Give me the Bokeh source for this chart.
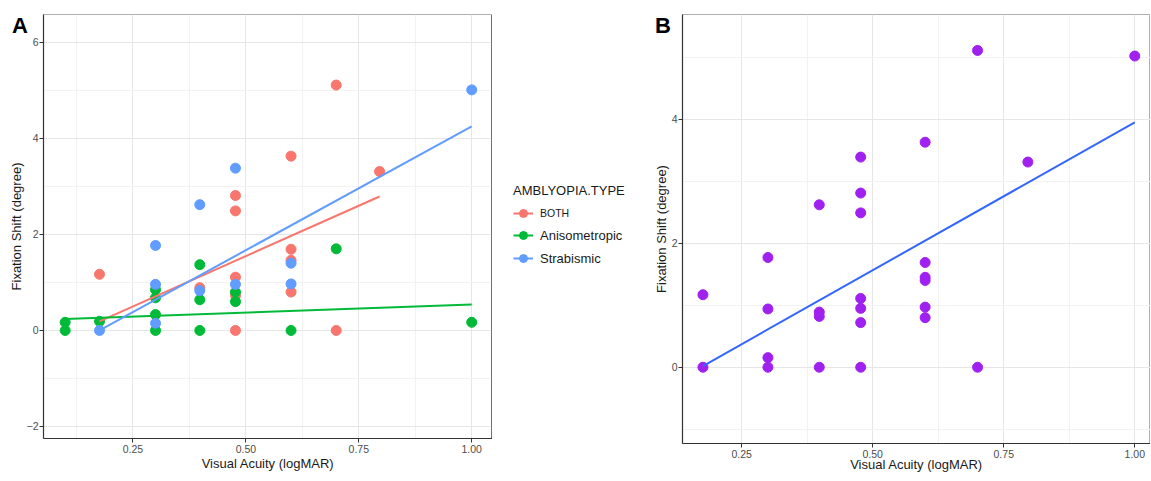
from bokeh.plotting import figure
from bokeh.models import (Range1d, FixedTicker, Legend, LegendItem, Div, Span,
                          NumeralTickFormatter)
from bokeh.layouts import row
from bokeh.embed import file_html
from bokeh.resources import INLINE

FONT = "Liberation Sans"

# ---------------- data: panel A (by amblyopia type) ----------------
both_x = [0.176, 0.398, 0.477, 0.477, 0.477, 0.477, 0.477, 0.6, 0.6, 0.6, 0.6, 0.7, 0.7, 0.796]
both_y = [1.17, 0.89, 2.81, 2.49, 1.11, 0.73, 0.0, 3.63, 1.69, 1.46, 0.80, 5.11, 0.0, 3.31]

aniso_x = [0.1, 0.1, 0.176, 0.3, 0.3, 0.3, 0.3, 0.398, 0.398, 0.398, 0.477, 0.477, 0.6, 0.7, 1.0]
aniso_y = [0.17, 0.0, 0.19, 0.85, 0.68, 0.33, 0.0, 1.37, 0.64, 0.0, 0.80, 0.60, 0.0, 1.70, 0.17]

strab_x = [0.176, 0.3, 0.3, 0.3, 0.398, 0.398, 0.477, 0.477, 0.6, 0.6, 1.0]
strab_y = [0.0, 1.77, 0.96, 0.15, 2.62, 0.83, 3.38, 0.96, 1.40, 0.97, 5.01]

# linear fits (endpoints)
fit_both_x, fit_both_y = [0.176, 0.796], [0.19, 2.79]
fit_aniso_x, fit_aniso_y = [0.1, 1.0], [0.24, 0.54]
fit_strab_x, fit_strab_y = [0.176, 1.0], [0.0, 4.25]

# ---------------- data: panel B (all) ----------------
all_x = [0.176, 0.176, 0.3, 0.3, 0.3, 0.3, 0.398, 0.398, 0.398, 0.398,
         0.477, 0.477, 0.477, 0.477, 0.477, 0.477, 0.477,
         0.6, 0.6, 0.6, 0.6, 0.6, 0.6, 0.7, 0.7, 0.796, 1.0]
all_y = [1.17, 0.0, 1.77, 0.94, 0.155, 0.0, 2.62, 0.89, 0.82, 0.0,
         3.39, 2.81, 2.49, 1.11, 0.95, 0.72, 0.0,
         3.63, 1.69, 1.45, 1.40, 0.97, 0.80, 5.11, 0.0, 3.31, 5.02]
fit_all_x, fit_all_y = [0.176, 1.0], [0.02, 3.95]

# ticks
x_ticks = [0.25, 0.5, 0.75, 1.0]
x_minor = [0.125, 0.375, 0.625, 0.875]
yA_ticks = [-2, 0, 2, 4, 6]
yA_minor = [-1, 1, 3, 5]
yB_ticks = [0, 2, 4]
yB_minor = [-1, 1, 3, 5]

group_names = ["BOTH", "Anisometropic", "Strabismic"]
group_colors = ["#F8766D", "#00BA38", "#619CFF"]
group_x = [both_x, aniso_x, strab_x]
group_y = [both_y, aniso_y, strab_y]
fit_x = [fit_both_x, fit_aniso_x, fit_strab_x]
fit_y = [fit_both_y, fit_aniso_y, fit_strab_y]

H = 472  # common figure height
DOT = 10


def style(p, yt, ym, xstand, ystand):
    p.xaxis.ticker = FixedTicker(ticks=x_ticks, minor_ticks=x_minor)
    p.yaxis.ticker = FixedTicker(ticks=yt, minor_ticks=ym)
    p.xaxis.formatter = NumeralTickFormatter(format="0.00")
    for ax in (p.xaxis[0], p.yaxis[0]):
        ax.axis_line_color = "#333333"
        ax.axis_line_width = 1.2
        ax.major_tick_line_color = "#333333"
        ax.major_tick_out = 4
        ax.major_tick_in = 0
        ax.minor_tick_out = 0
        ax.minor_tick_in = 0
        ax.major_label_text_font = FONT
        ax.major_label_text_font_size = "10.5px"
        ax.major_label_text_color = "#4d4d4d"
        ax.major_label_standoff = 2
        ax.axis_label_text_font = FONT
        ax.axis_label_text_font_size = "13px"
        ax.axis_label_text_font_style = "normal"
        ax.axis_label_text_color = "#1a1a1a"
    p.yaxis.major_label_standoff = 1
    p.yaxis.axis_label_standoff = ystand
    p.xaxis.axis_label_standoff = xstand
    p.xaxis.axis_label = "Visual Acuity (logMAR)"
    p.yaxis.axis_label = "Fixation Shift (degree)"
    for g in (p.xgrid[0], p.ygrid[0]):
        g.grid_line_color = "#e6e6e6"
        g.grid_line_width = 1
        g.minor_grid_line_color = "#f2f2f2"
        g.minor_grid_line_width = 1
    p.outline_line_color = "#b0b0b0"
    p.outline_line_width = 1
    p.background_fill_color = "white"


# ---------------- panel A ----------------
pA = figure(output_backend="svg", toolbar_location=None,
            frame_width=449, frame_height=424,
            min_border_left=43, min_border_right=0,
            min_border_top=14, min_border_bottom=30,
            x_range=Range1d(0.052, 1.046), y_range=Range1d(-2.25, 6.58))
style(pA, yA_ticks, yA_minor, 0, 0)
pA.add_layout(Span(location=pA.x_range.end, dimension="height",
                   line_color="#555555", line_width=2.4))

for xs, ys, c in zip(group_x, group_y, group_colors):
    pA.scatter(xs, ys, size=DOT, color=c, line_color=c)
for xs, ys, c in zip(fit_x, fit_y, group_colors):
    pA.line(xs, ys, line_color=c, line_width=2)

# ---------------- legend strip (its frame shows no data: range far from the data) ----------------
pL = figure(output_backend="svg", toolbar_location=None,
            width=148, height=H, min_border=0,
            min_border_left=0, min_border_right=0, min_border_top=0, min_border_bottom=0,
            x_axis_type=None, y_axis_type=None,
            x_range=Range1d(-10, -9), y_range=Range1d(-10, -9))
pL.outline_line_color = None
pL.grid.visible = False
items = []
for xs, ys, fx, fy, n, c in zip(group_x, group_y, fit_x, fit_y, group_names, group_colors):
    lr = pL.line(fx, fy, line_color=c, line_width=2)
    sr = pL.scatter(xs, ys, size=9, color=c, line_color=c)
    items.append(LegendItem(label=n, renderers=[lr, sr]))

common = dict(label_text_font=FONT, label_text_color="#1a1a1a",
              glyph_width=20, glyph_height=20, label_height=20, label_standoff=7,
              spacing=3, padding=0, margin=0,
              border_line_alpha=0, background_fill_alpha=0)
OFF = 34
leg1 = Legend(items=items[:1], location=(21, H - 224 - OFF), title="AMBLYOPIA.TYPE",
              title_text_font=FONT, title_text_font_size="13px",
              title_text_font_style="normal", title_text_color="#1a1a1a",
              title_standoff=5, label_text_font_size="10.5px", **common)
leg2 = Legend(items=items[1:], location=(21, H - 269 - OFF),
              label_text_font_size="13px", **common)
pL.add_layout(leg1)
pL.add_layout(leg2)

# ---------------- panel B ----------------
pB = figure(output_backend="svg", toolbar_location=None,
            frame_width=468, frame_height=429,
            min_border_left=42, min_border_right=0,
            min_border_top=14, min_border_bottom=26,
            x_range=Range1d(0.137, 1.03), y_range=Range1d(-1.23, 5.69))
style(pB, yB_ticks, yB_minor, -4, 0)
pB.scatter(all_x, all_y, size=DOT, color="#A020F0", line_color="#A020F0")
pB.line(fit_all_x, fit_all_y, line_color="#3366FF", line_width=2)

lab_style = {"position": "absolute", "font-family": FONT, "font-size": "22px",
             "font-weight": "bold", "line-height": "1", "color": "black",
             "z-index": "10"}
divA = Div(text="A", styles=dict(lab_style, left="7px", top="10px"))
divB = Div(text="B", styles=dict(lab_style, left="650px", top="10px"))

layout = row(pA, pL, pB, divA, divB)
open("out.html", "w").write(file_html(layout, INLINE))
